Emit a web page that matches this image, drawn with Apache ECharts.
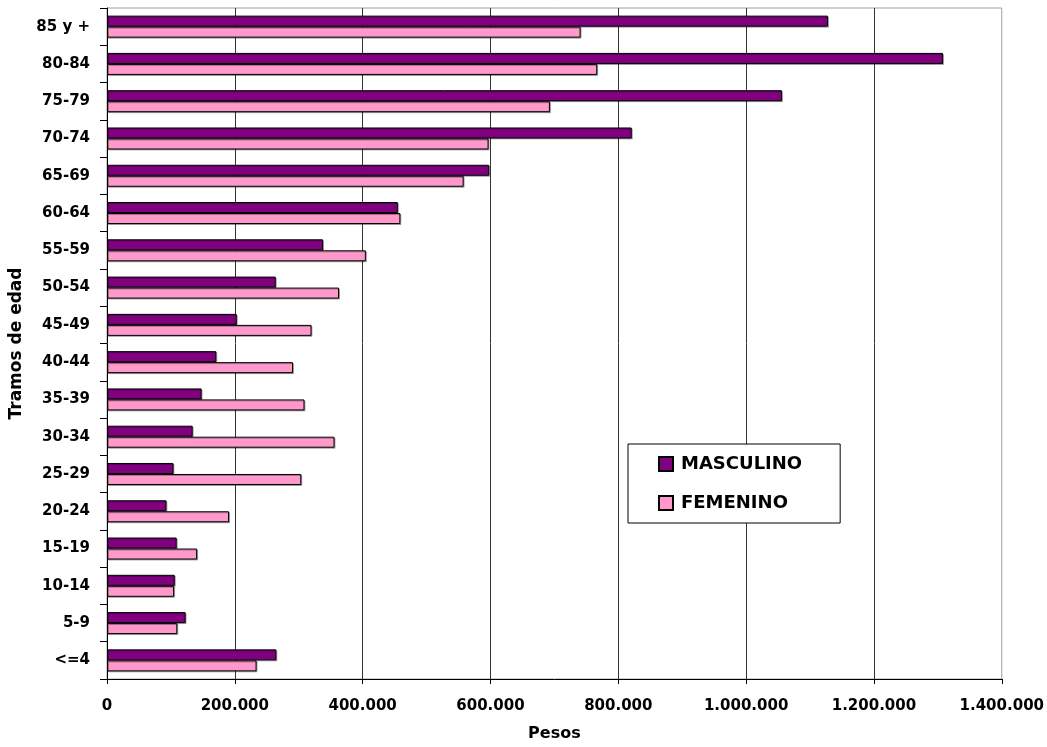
<!DOCTYPE html>
<html>
<head>
<meta charset="utf-8">
<script src="https://cdn.jsdelivr.net/npm/echarts@6/dist/echarts.min.js"></script>
<style>
html,body{margin:0;padding:0;background:#fff;}
#chart{width:1047px;height:747px;}
</style>
</head>
<body>
<div id="chart"></div>
<script>
// Categories (bottom to top, as ECharts draws a category y axis)
var categories = ['<=4','5-9','10-14','15-19','20-24','25-29','30-34','35-39','40-44','45-49','50-54','55-59','60-64','65-69','70-74','75-79','80-84','85 y +'];
var masculino = [265000,123000,106000,109000,93000,104000,134000,148000,171000,203000,264000,338000,455000,598000,821000,1056000,1308000,1128000];
var femenino  = [234000,110000,105000,141000,191000,304000,356000,309000,291000,320000,363000,405000,459000,558000,597000,693000,767000,741000];
var xTickLabels = ['0','200.000','400.000','600.000','800.000','1.000.000','1.200.000','1.400.000'];
var seriesNames = ['MASCULINO','FEMENINO'];

var FONT = 'DejaVu Sans';
var chart = echarts.init(document.getElementById('chart'), null, {renderer:'canvas'});
chart.setOption({
  animation:false,
  backgroundColor:'#ffffff',
  grid:{left:107, right:45, top:8, bottom:67, show:true, borderColor:'#a0a0a0', borderWidth:1, backgroundColor:'transparent'},
  legend:{
    data:seriesNames,
    orient:'vertical',
    left:628, top:444,
    padding:[11,38,11,30],
    itemGap:21,
    itemWidth:14, itemHeight:14,
    icon:'rect',
    backgroundColor:'#ffffff',
    borderColor:'#000000', borderWidth:1, borderRadius:0,
    textStyle:{fontFamily:FONT, fontWeight:'bold', fontSize:18, color:'#000', padding:[0,0,0,3]}
  },
  xAxis:{
    type:'value', min:0, max:1400000, interval:200000,
    name:'Pesos', nameLocation:'middle', nameGap:47,
    nameTextStyle:{fontFamily:FONT, fontWeight:'bold', fontSize:16, color:'#000'},
    axisLine:{show:true, lineStyle:{color:'#000', width:1}},
    axisTick:{show:true, length:5, lineStyle:{color:'#000'}},
    axisLabel:{margin:20, fontFamily:FONT, fontWeight:'bold', fontSize:15, color:'#000',
      formatter:function(v){ return xTickLabels[Math.round(v/200000)]; }},
    splitLine:{show:true, showMinLine:false, showMaxLine:false, lineStyle:{color:'#333333', width:1}}
  },
  yAxis:{
    type:'category', data:categories,
    name:'Tramos de edad', nameLocation:'middle', nameGap:82,
    nameTextStyle:{fontFamily:FONT, fontWeight:'bold', fontSize:17, color:'#000'},
    axisLine:{show:true, lineStyle:{color:'#000', width:1}},
    axisTick:{show:true, length:7, lineStyle:{color:'#000'}},
    axisLabel:{margin:17, fontFamily:FONT, fontWeight:'bold', fontSize:15, color:'#000'},
    splitLine:{show:false}
  },
  series:[
    {name:'MASCULINO', type:'bar', data:masculino, barWidth:11, barGap:'0%',
     itemStyle:{color:'#800080', borderColor:'#000', borderWidth:1,
       shadowColor:'rgba(0,0,0,0.3)', shadowOffsetX:1, shadowOffsetY:1, shadowBlur:0}},
    {name:'FEMENINO', type:'bar', data:femenino, barWidth:11, barGap:'0%',
     itemStyle:{color:'#FF99CC', borderColor:'#000', borderWidth:1,
       shadowColor:'rgba(0,0,0,0.3)', shadowOffsetX:1, shadowOffsetY:1, shadowBlur:0}}
  ]
});
</script>
</body>
</html>
